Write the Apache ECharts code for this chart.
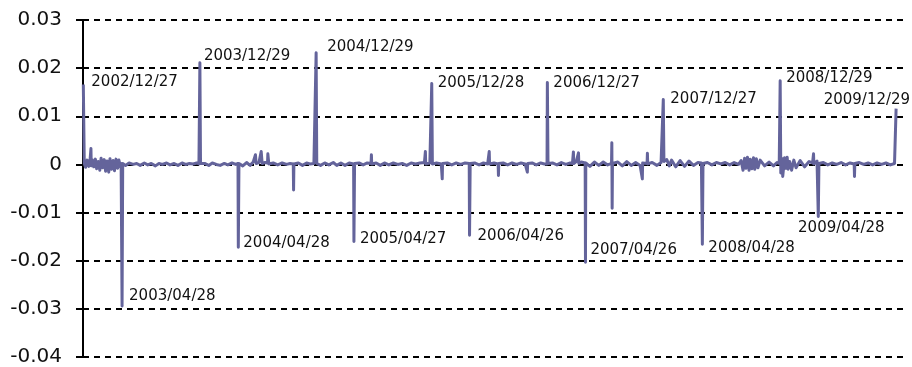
<!DOCTYPE html>
<html>
<head>
<meta charset="utf-8">
<script src="https://cdn.jsdelivr.net/npm/echarts@6/dist/echarts.min.js"></script>
<style>html,body{margin:0;padding:0;background:#fff}#c{width:912px;height:367px}</style>
</head>
<body>
<div id="c"></div>
<script>
const dates = [
'2002-12-27','2002-12-30','2003-01-03','2003-01-08','2003-01-13','2003-01-17','2003-01-20','2003-01-21','2003-01-24','2003-01-29','2003-02-03','2003-02-07','2003-02-12','2003-02-17','2003-02-21','2003-02-26','2003-03-03','2003-03-07','2003-03-12','2003-03-17','2003-03-21','2003-03-26','2003-03-31','2003-04-04','2003-04-09','2003-04-14','2003-04-18','2003-04-23','2003-04-25','2003-04-28','2003-04-30','2003-05-09','2003-05-20','2003-06-02','2003-06-13','2003-06-24','2003-07-07','2003-07-18','2003-07-29','2003-08-11','2003-08-22','2003-09-02','2003-09-15','2003-09-26','2003-10-09','2003-10-21','2003-11-03','2003-11-14','2003-11-26','2003-12-08','2003-12-19','2003-12-26','2003-12-29','2003-12-31',
'2004-01-13','2004-01-26','2004-02-06','2004-02-19','2004-03-02','2004-03-15','2004-03-26','2004-04-08','2004-04-20','2004-04-27','2004-04-28','2004-04-30','2004-05-12','2004-05-24','2004-06-04','2004-06-14','2004-06-18','2004-06-21','2004-06-23','2004-07-02','2004-07-08','2004-07-09','2004-07-12','2004-07-21','2004-07-29','2004-07-30','2004-08-02','2004-08-16','2004-08-30','2004-09-13','2004-09-27','2004-10-08','2004-10-18','2004-10-19','2004-10-20','2004-11-03','2004-11-16','2004-11-29','2004-12-10','2004-12-22','2004-12-28','2004-12-29','2004-12-31',
'2005-01-12','2005-01-25','2005-02-07','2005-02-21','2005-03-04','2005-03-17','2005-03-30','2005-04-12','2005-04-26','2005-04-27','2005-04-29','2005-05-13','2005-05-26','2005-06-08','2005-06-20','2005-06-21','2005-06-22','2005-07-06','2005-07-19','2005-08-01','2005-08-15','2005-08-29','2005-09-12','2005-09-26','2005-10-10','2005-10-24','2005-11-07','2005-11-21','2005-12-05','2005-12-07','2005-12-08','2005-12-09','2005-12-22','2005-12-27','2005-12-28','2005-12-30',
'2006-01-12','2006-01-27','2006-01-30','2006-01-31','2006-02-15','2006-03-01','2006-03-15','2006-03-29','2006-04-12','2006-04-25','2006-04-26','2006-04-28','2006-05-12','2006-05-26','2006-06-09','2006-06-22','2006-06-26','2006-06-27','2006-06-28','2006-07-12','2006-07-25','2006-07-26','2006-07-27','2006-08-10','2006-08-24','2006-09-07','2006-09-21','2006-10-05','2006-10-18','2006-10-24','2006-10-25','2006-10-26','2006-11-09','2006-11-22','2006-12-06','2006-12-18','2006-12-26','2006-12-27','2006-12-29',
'2007-01-12','2007-01-26','2007-02-09','2007-02-23','2007-03-09','2007-03-16','2007-03-19','2007-03-20','2007-03-28','2007-04-03','2007-04-04','2007-04-05','2007-04-13','2007-04-25','2007-04-26','2007-04-27','2007-05-10','2007-05-24','2007-06-07','2007-06-21','2007-07-05','2007-07-17','2007-07-18','2007-07-19','2007-07-20','2007-08-06','2007-08-20','2007-09-03','2007-09-17','2007-10-01','2007-10-15','2007-10-19','2007-10-22','2007-10-23','2007-11-06','2007-11-07','2007-11-08','2007-11-22','2007-12-07','2007-12-20','2007-12-26','2007-12-27','2007-12-29',
'2008-01-07','2008-01-15','2008-01-22','2008-02-04','2008-02-18','2008-03-03','2008-03-17','2008-03-31','2008-04-14','2008-04-25','2008-04-28','2008-04-30','2008-05-14','2008-05-28','2008-06-11','2008-06-25','2008-07-09','2008-07-23','2008-08-06','2008-08-20','2008-08-28','2008-09-03','2008-09-08','2008-09-12','2008-09-17','2008-09-22','2008-09-26','2008-10-01','2008-10-06','2008-10-10','2008-10-15','2008-10-20','2008-10-27','2008-11-10','2008-11-24','2008-12-08','2008-12-19','2008-12-26','2008-12-29','2008-12-31',
'2009-01-05','2009-01-06','2009-01-12','2009-01-16','2009-01-20','2009-01-23','2009-01-28','2009-02-02','2009-02-03','2009-02-10','2009-02-17','2009-03-02','2009-03-16','2009-03-30','2009-04-10','2009-04-13','2009-04-14','2009-04-24','2009-04-28','2009-04-30','2009-05-14','2009-05-28','2009-06-11','2009-06-25','2009-07-09','2009-07-23','2009-08-06','2009-08-19','2009-08-20','2009-08-21','2009-09-04','2009-09-18','2009-10-02','2009-10-16','2009-10-30','2009-11-13','2009-11-27','2009-12-11','2009-12-24','2009-12-28','2009-12-29'
];
const values = [
0.0166,0.0002,-0.0006,0.0009,-0.0004,0.0008,0.0033,-0.0003,0.0010,-0.0005,0.0011,-0.0009,0.0006,-0.0012,0.0013,-0.0007,0.0010,-0.0014,0.0007,-0.0016,0.0012,-0.0010,0.0008,-0.0013,0.0011,-0.0008,0.0009,-0.0005,0.0002,-0.0294,0.0002,-0.0002,0.0003,0.0000,0.0002,-0.0002,0.0003,-0.0001,0.0002,-0.0003,0.0002,0.0000,0.0003,-0.0001,0.0002,-0.0002,0.0003,0.0000,0.0002,0.0001,0.0003,0.0001,0.0211,0.0002,
0.0002,-0.0002,0.0003,0.0000,-0.0002,0.0002,-0.0001,0.0003,0.0000,0.0002,-0.0172,0.0002,-0.0003,0.0004,-0.0002,0.0005,0.0003,0.0020,0.0002,0.0004,0.0003,0.0027,0.0002,0.0004,0.0003,0.0022,0.0001,0.0003,-0.0001,0.0003,0.0000,0.0002,0.0001,-0.0053,0.0001,0.0003,-0.0002,0.0003,0.0001,0.0002,0.0002,0.0232,0.0002,
-0.0002,0.0003,-0.0001,0.0004,-0.0002,0.0003,-0.0002,0.0003,0.0001,-0.0160,0.0002,0.0003,-0.0001,0.0003,0.0002,0.0020,0.0001,0.0003,-0.0002,0.0003,-0.0001,0.0003,0.0000,0.0002,-0.0002,0.0003,0.0001,0.0003,0.0004,0.0002,0.0027,0.0001,0.0003,0.0002,0.0168,0.0001,
0.0003,0.0001,-0.0030,0.0002,0.0003,-0.0001,0.0003,0.0000,0.0003,0.0002,-0.0147,0.0002,0.0003,-0.0001,0.0003,0.0001,0.0002,0.0027,0.0001,0.0003,0.0001,-0.0023,0.0002,0.0003,-0.0001,0.0003,0.0000,0.0003,0.0001,0.0001,-0.0016,0.0002,0.0003,-0.0001,0.0003,0.0001,0.0001,0.0170,0.0002,
0.0003,-0.0001,0.0004,0.0000,0.0003,0.0002,0.0026,0.0002,0.0006,0.0003,0.0024,0.0002,0.0005,0.0003,-0.0203,0.0003,-0.0004,0.0005,-0.0002,0.0005,-0.0001,0.0002,0.0045,-0.0091,0.0002,0.0005,-0.0003,0.0006,-0.0002,0.0004,-0.0002,0.0001,-0.0030,0.0003,0.0002,0.0023,0.0001,0.0004,-0.0002,0.0004,0.0003,0.0135,0.0006,
0.0010,-0.0003,0.0009,-0.0005,0.0008,-0.0004,0.0007,-0.0002,0.0004,0.0003,-0.0166,0.0002,0.0004,-0.0001,0.0004,0.0001,0.0004,-0.0001,0.0004,0.0000,0.0008,-0.0012,0.0013,-0.0008,0.0015,-0.0012,0.0011,-0.0009,0.0014,-0.0010,0.0012,-0.0007,0.0009,-0.0003,0.0005,-0.0003,0.0004,0.0002,0.0174,-0.0018,
0.0012,-0.0025,0.0014,-0.0008,0.0015,-0.0010,0.0006,0.0010,-0.0012,0.0009,-0.0007,0.0008,-0.0005,0.0006,0.0003,0.0022,0.0001,0.0007,-0.0108,0.0002,0.0004,-0.0001,0.0003,0.0000,0.0004,-0.0001,0.0003,0.0001,-0.0025,0.0002,0.0004,0.0000,0.0003,-0.0001,0.0003,0.0000,0.0003,-0.0001,0.0002,0.0003,0.0116
];
const labelDates = ['2002-12-27','2003-12-29','2004-12-29','2005-12-28','2006-12-27','2007-12-27','2008-12-29','2009-12-29',
                    '2003-04-28','2004-04-28','2005-04-27','2006-04-26','2007-04-26','2008-04-28','2009-04-28'];
const yTicks = [-0.04,-0.03,-0.02,-0.01,0,0.01,0.02,0.03];

// label placement (style only): [dx, dy, align]
const labelPlace = [[8,-2,'left'],[4,-7,'left'],[11,-6,'left'],[6,0,'left'],[6,1,'left'],[7,0,'left'],[6,-3,'left'],[14,-8,'right'],
                    [7,-10,'left'],[5,-4,'left'],[6,-2,'left'],[8,1,'left'],[5,-12,'left'],[6,4,'left'],[23,12,'center']];

const P = d => echarts.time.parse(d);
const seriesData = dates.map((d,i) => [P(d), values[i]]);
const mpData = labelDates.map((d,i) => {
  const v = values[dates.indexOf(d)];
  const pl = labelPlace[i];
  return {
    coord: [P(d), v],
    label: { show: true, formatter: d.replace(/-/g,'/'), position: 'inside', align: pl[2], verticalAlign: 'middle', offset: [pl[0], pl[1]] }
  };
});

const chart = echarts.init(document.getElementById('c'), null, {renderer:'canvas'});
chart.setOption({
  animation: false,
  grid: { left: 83, right: 7, top: 20, bottom: 9, containLabel: false },
  xAxis: {
    type: 'time',
    min: P('2002-12-26'),
    max: P('2010-01-26'),
    show: false,
    splitLine: { show: false }
  },
  yAxis: {
    type: 'value',
    min: yTicks[0],
    max: yTicks[yTicks.length-1],
    interval: 0.01,
    axisLine: { show: true, lineStyle: { color: '#000', width: 2 } },
    axisTick: { show: true, length: 7, inside: false, lineStyle: { color: '#000', width: 2 } },
    axisLabel: {
      margin: 21,
      fontSize: 20,
      fontFamily: 'DejaVu Sans',
      color: '#111',
      formatter: v => { const r = Math.round(v*100)/100; return r === 0 ? '0' : r.toFixed(2); }
    },
    splitLine: { show: true, lineStyle: { color: '#000', width: 2, type: [6,5] } }
  },
  series: [{
    type: 'line',
    data: seriesData,
    showSymbol: false,
    symbol: 'none',
    sampling: null,
    lineStyle: { color: '#64649b', width: 3, join: 'round' },
    itemStyle: { color: '#64649b' },
    markPoint: {
      symbol: 'circle',
      symbolSize: 2,
      itemStyle: { color: 'rgba(0,0,0,0)' },
      label: { fontSize: 15, fontFamily: 'DejaVu Sans', color: '#111' },
      emphasis: { disabled: true },
      data: mpData
    }
  }]
});
</script>
</body>
</html>
